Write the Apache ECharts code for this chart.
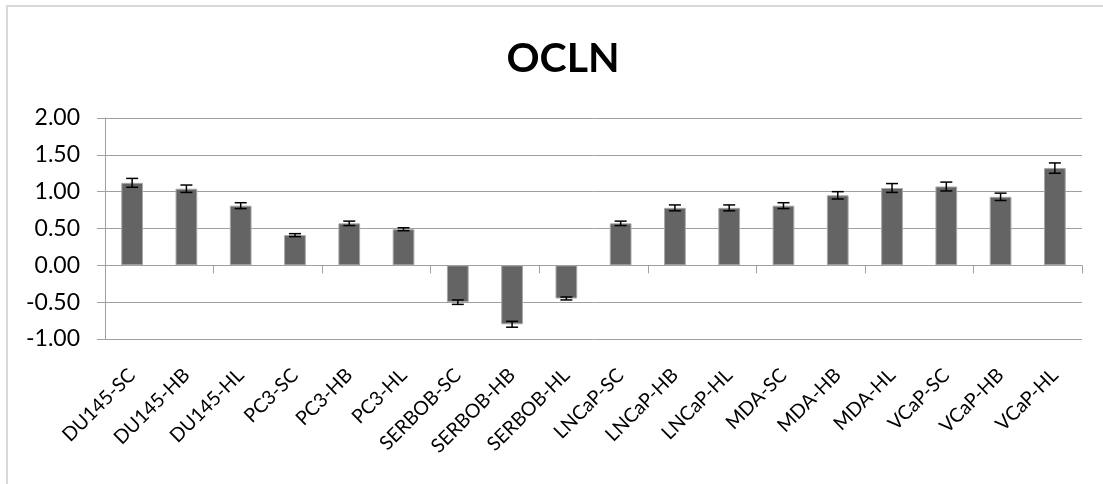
<!DOCTYPE html>
<html>
<head>
<meta charset="utf-8">
<script src="https://cdn.jsdelivr.net/npm/echarts@6/dist/echarts.min.js"></script>
<style>
  html, body { margin: 0; padding: 0; background: #fff; }
  #chart { width: 1103px; height: 484px; }
</style>
</head>
<body>
<div id="chart"></div>
<script>
// 資料
const categories = ['DU145-SC', 'DU145-HB', 'DU145-HL', 'PC3-SC', 'PC3-HB', 'PC3-HL',
  'SERBOB-SC', 'SERBOB-HB', 'SERBOB-HL', 'LNCaP-SC', 'LNCaP-HB', 'LNCaP-HL',
  'MDA-SC', 'MDA-HB', 'MDA-HL', 'VCaP-SC', 'VCaP-HB', 'VCaP-HL'];
const values = [1.12, 1.04, 0.81, 0.41, 0.57, 0.49, -0.50, -0.80, -0.45,
  0.57, 0.78, 0.78, 0.81, 0.95, 1.05, 1.07, 0.93, 1.32];
const errors = [0.06, 0.05, 0.04, 0.02, 0.03, 0.02, 0.03, 0.04, 0.02,
  0.03, 0.04, 0.04, 0.04, 0.05, 0.06, 0.06, 0.05, 0.07];
const yTicks = [-1, -0.5, 0, 0.5, 1, 1.5, 2];

const font = 'Lato, "Liberation Sans", sans-serif';
const gridColor = '#a0a0a0';

const errData = values.map((v, i) => [i, v - errors[i], v + errors[i]]);

const chart = echarts.init(document.getElementById('chart'));
chart.setOption({
  animation: false,
  backgroundColor: '#fff',
  graphic: [{
    type: 'rect',
    shape: { x: 7, y: 6, width: 1200, height: 600 },
    style: { fill: 'none', stroke: '#d9d9d9', lineWidth: 2 },
    silent: true
  }],
  title: {
    text: 'OCLN',
    left: 558,
    top: 33,
    textAlign: 'center',
    textStyle: { fontFamily: font, fontWeight: 'bold', fontSize: 41, color: '#000' }
  },
  grid: { left: 105, right: 21, top: 118, bottom: 145 },
  xAxis: [{
    type: 'category',
    data: categories,
    position: 'bottom',
    axisLine: { show: false, onZero: false },
    axisTick: { show: false },
    axisLabel: {
      rotate: 45, interval: 0, margin: 33,
      fontFamily: font, fontSize: 19.5, color: '#000'
    }
  }, {
    type: 'category',
    data: categories,
    position: 'top',
    axisLine: { show: true, onZero: true, lineStyle: { color: gridColor, width: 1 } },
    axisTick: { show: true, inside: true, length: 8, lineStyle: { color: gridColor } },
    axisLabel: { show: false }
  }],
  yAxis: {
    type: 'value',
    min: yTicks[0],
    max: yTicks[yTicks.length - 1],
    interval: 0.5,
    axisLine: { show: true, lineStyle: { color: gridColor, width: 1 } },
    axisTick: { show: true, length: 8, lineStyle: { color: gridColor } },
    axisLabel: {
      margin: 25,
      fontFamily: font, fontSize: 23, color: '#000',
      formatter: v => v.toFixed(2)
    },
    splitLine: { lineStyle: { color: gridColor, width: 1 } }
  },
  series: [{
    type: 'bar',
    data: values,
    xAxisIndex: 0,
    barWidth: '40%',
    itemStyle: { color: '#646464', borderColor: '#a6a6a6', borderWidth: 1 }
  }, {
    type: 'custom',
    xAxisIndex: 0,
    data: errData,
    encode: { x: 0, y: [1, 2] },
    z: 10,
    renderItem: (params, api) => {
      const lo = api.coord([api.value(0), api.value(1)]);
      const hi = api.coord([api.value(0), api.value(2)]);
      const half = 6;
      const style = { stroke: '#000', lineWidth: 1.5 };
      return {
        type: 'group',
        children: [
          { type: 'line', shape: { x1: lo[0], y1: lo[1], x2: hi[0], y2: hi[1] }, style },
          { type: 'line', shape: { x1: lo[0] - half, y1: lo[1], x2: lo[0] + half, y2: lo[1] }, style },
          { type: 'line', shape: { x1: hi[0] - half, y1: hi[1], x2: hi[0] + half, y2: hi[1] }, style }
        ]
      };
    }
  }]
});
</script>
</body>
</html>
